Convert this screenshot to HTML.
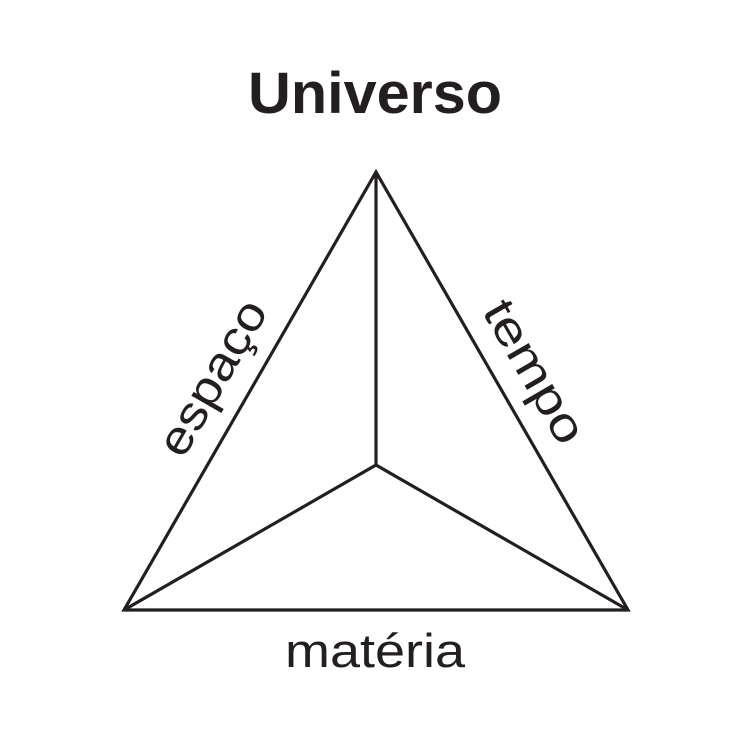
<!DOCTYPE html>
<html><head><meta charset="utf-8"><style>html,body{margin:0;padding:0;background:#fff}</style></head>
<body>
<svg width="751" height="751" viewBox="0 0 751 751" xmlns="http://www.w3.org/2000/svg">
<rect width="751" height="751" fill="#fff"/>
<g stroke="#231f20" stroke-width="3.2" fill="none" stroke-linejoin="miter">
<polygon points="376,172 124,610 628,610"/>
<polyline points="376,172 376,465"/>
<polyline points="124,610 376,465 628,610"/>
</g>
<g fill="#231f20" font-family="Liberation Sans, sans-serif">
<text x="375" y="113" font-size="58" font-weight="bold" text-anchor="middle" textLength="254" lengthAdjust="spacingAndGlyphs">Universo</text>
<text x="375" y="667" font-size="47" text-anchor="middle" textLength="180" lengthAdjust="spacingAndGlyphs">matéria</text>
<text transform="translate(213,378) rotate(-60)" font-size="47" text-anchor="middle" y="15" textLength="172" lengthAdjust="spacingAndGlyphs">espaço</text>
<text transform="translate(534,372) rotate(60)" font-size="47" text-anchor="middle" y="15" textLength="158" lengthAdjust="spacingAndGlyphs">tempo</text>
</g>
</svg>
</body></html>
